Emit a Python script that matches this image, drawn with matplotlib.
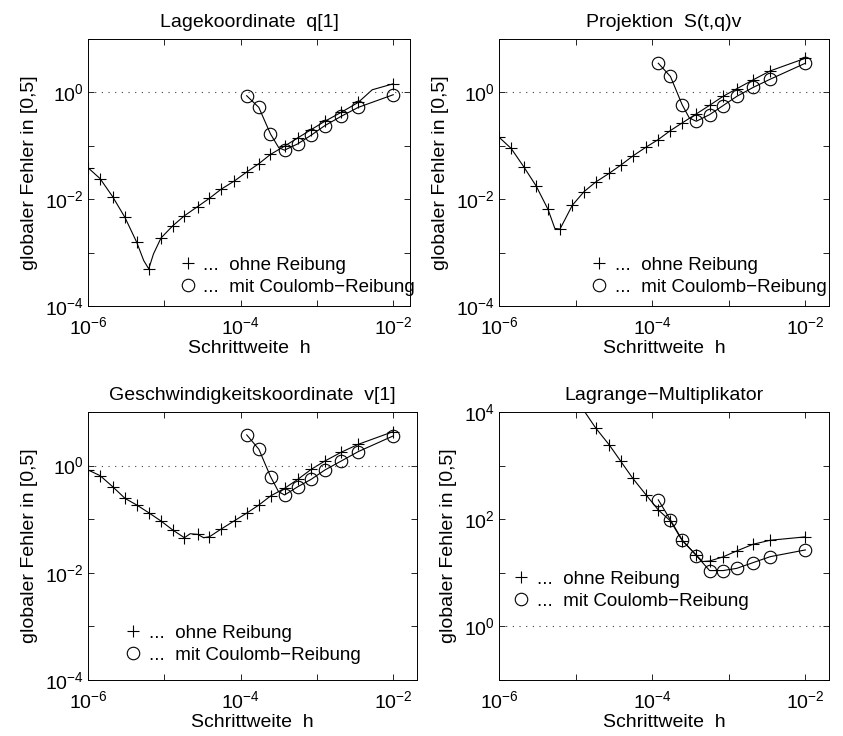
import matplotlib
matplotlib.use("agg")
import matplotlib.pyplot as plt
from matplotlib.lines import Line2D

plt.rcParams["font.family"] = ["Liberation Sans", "DejaVu Sans"]
plt.rcParams["mathtext.fontset"] = "custom"
plt.rcParams["mathtext.rm"] = "Liberation Sans"
plt.rcParams["mathtext.it"] = "Liberation Sans:italic"
plt.rcParams["mathtext.bf"] = "Liberation Sans:bold"

# step sizes h (shared by all panels)
h = [1.0e-6, 1.44e-6, 2.1e-6, 3.05e-6, 4.35e-6, 6.25e-6, 9.05e-6, 1.29e-5,
     1.83e-5, 2.74e-5, 3.9e-5, 5.55e-5, 8.3e-5, 1.2e-4, 1.73e-4, 2.46e-4,
     3.76e-4, 5.62e-4, 8.4e-4, 1.27e-3, 2.08e-3, 3.48e-3, 1.0e-2]
h_circ = h[13:]
h_lagr = h[8:]

# panel 1: Lagekoordinate q[1]
q_plus = [0.0389, 0.0243, 0.0112, 4.55e-3, 1.56e-3, 4.97e-4, 1.88e-3, 3.18e-3,
          4.89e-3, 7.3e-3, 0.0104, 0.0154, 0.0220, 0.0323, 0.0462, 0.069,
          0.0986, 0.141, 0.201, 0.288, 0.424, 0.651, 1.45]
q_circ = [0.867, 0.525, 0.167, 0.083, 0.109, 0.158, 0.239, 0.357, 0.525, 0.905]
q_plus_extra_h = [5.37e-6, 7.2e-6, 5.3e-3]
q_plus_extra = [7.1e-4, 9.4e-4, 1.12]
q_circ_extra_h = [3.16e-4]
q_circ_extra = [0.092]

# panel 2: Projektion S(t,q)v
s_plus = [0.145, 0.0891, 0.0406, 0.0177, 6.5e-3, 2.76e-3, 7.7e-3, 0.0139,
          0.0210, 0.0305, 0.0436, 0.0641, 0.0944, 0.131, 0.193, 0.268, 0.395,
          0.573, 0.842, 1.17, 1.72, 2.53, 4.36]
s_circ = [3.52, 1.99, 0.589, 0.288, 0.384, 0.565, 0.842, 1.24, 1.77, 3.52]
s_plus_extra_h = [5.35e-6]
s_plus_extra = [2.84e-3]
s_circ_extra_h = [3.05e-4]
s_circ_extra = [0.333]

# panel 3: Geschwindigkeitskoordinate v[1]
v_plus = [0.830, 0.650, 0.405, 0.245, 0.184, 0.132, 0.0924, 0.0628, 0.0451,
          0.0521, 0.0471, 0.0655, 0.0938, 0.13, 0.184, 0.271, 0.377, 0.556,
          0.854, 1.22, 1.78, 2.50, 4.32]
v_circ = [3.74, 2.02, 0.623, 0.283, 0.405, 0.556, 0.830, 1.22, 1.83, 3.59]
v_plus_extra_h = [2.18e-5, 3.27e-5]
v_plus_extra = [0.0536, 0.0451]
v_circ_extra_h = [3.13e-4]
v_circ_extra = [0.327]

# panel 4: Lagrange-Multiplikator
l_plus = [5020, 2450, 1196, 584, 285, 149, 93, 40, 21.5, 16.6, 19.8, 25.6,
          34.1, 40.5, 46.8]
l_circ = [230, 97, 41, 21, 11.0, 11.0, 12.1, 15.5, 20.0, 26.7]
l_plus_extra_h = [1.29e-5, 4.55e-4]
l_plus_extra = [1.05e4, 16.2]
l_circ_extra_h = []
l_circ_extra = []

titles = ["Lagekoordinate  q[1]", "Projektion  S(t,q)v",
          "Geschwindigkeitskoordinate  v[1]", "Lagrange\u2212Multiplikator"]
legend_labels = ["...  ohne Reibung", "...  mit Coulomb\u2212Reibung"]
xticks = [1e-6, 1e-5, 1e-4, 1e-3, 1e-2]
xticklabels = ["$10^{-6}$", "", "$10^{-4}$", "", "$10^{-2}$"]
yticks_err = [1e-4, 1e-3, 1e-2, 1e-1, 1e0, 1e1]
yticklabels_err = ["$10^{-4}$", "", "$10^{-2}$", "", "$10^{0}$", ""]
yticks_lagr = [1e-1, 1e0, 1e1, 1e2, 1e3, 1e4]
yticklabels_lagr = ["", "$10^{0}$", "", "$10^{2}$", "", "$10^{4}$"]


def merged(hx, y, hx2, y2):
    pts = sorted(zip(list(hx) + list(hx2), list(y) + list(y2)))
    return [p[0] for p in pts], [p[1] for p in pts]


def panel(fig, rect, title, xmax, ylim, yticks, yticklabels,
          hp, yp, hpe, ype, hc, yc, hce, yce, leg_xy):
    ax = fig.add_axes(rect)
    lx, ly = merged(hp, yp, hpe, ype)
    ax.plot(lx, ly, color="k", lw=0.8)
    lx, ly = merged(hc, yc, hce, yce)
    ax.plot(lx, ly, color="k", lw=0.8)
    ax.plot(hp, yp, ls="none", marker="+", ms=9, mew=0.8, color="k")
    ax.plot(hc, yc, ls="none", marker="o", ms=9, mew=0.8, mfc="none", color="k")
    ax.axhline(1.0, color="0.25", ls=(0, (1, 5)), lw=0.8)
    ax.set_xscale("log")
    ax.set_yscale("log")
    ax.set_xlim(1e-6, xmax)
    ax.set_ylim(*ylim)
    ax.set_xticks(xticks)
    ax.set_xticklabels(xticklabels)
    ax.set_yticks(yticks)
    ax.set_yticklabels(yticklabels)
    ax.minorticks_off()
    ax.tick_params(direction="in", top=True, right=True, length=4, width=0.6,
                   labelsize=14)
    ax.tick_params(axis="x", pad=7)
    ax.tick_params(axis="y", pad=3)
    for s in ax.spines.values():
        s.set_linewidth(0.7)
    ax.set_title(title, fontsize=14, pad=9)
    ax.set_xlabel("Schrittweite  h", fontsize=14, labelpad=2)
    ax.set_ylabel("globaler Fehler in [0,5]", fontsize=14, labelpad=5)
    handles = [Line2D([], [], ls="none", marker="+", ms=9, mew=0.8, color="k"),
               Line2D([], [], ls="none", marker="o", ms=9, mew=0.8,
                      mfc="none", color="k")]
    ax.legend(handles, legend_labels, loc="upper left", bbox_to_anchor=leg_xy,
              frameon=False, fontsize=13.5, borderpad=0, borderaxespad=0,
              handlelength=1.0, handletextpad=0.35, labelspacing=0.24)
    return ax


fig = plt.figure(figsize=(8.43, 7.36), dpi=100)

panel(fig, [0.1044, 0.5842, 0.3820, 0.3628], titles[0], 10 ** -1.78,
      (1e-4, 1e1), yticks_err, yticklabels_err,
      h, q_plus, q_plus_extra_h, q_plus_extra,
      h_circ, q_circ, q_circ_extra_h, q_circ_extra, (0.28, 0.184))
panel(fig, [0.5920, 0.5842, 0.3915, 0.3628], titles[1], 10 ** -1.69,
      (1e-4, 1e1), yticks_err, yticklabels_err,
      h, s_plus, s_plus_extra_h, s_plus_extra,
      h_circ, s_circ, s_circ_extra_h, s_circ_extra, (0.274, 0.184))
panel(fig, [0.1044, 0.0761, 0.3903, 0.3641], titles[2], 10 ** -1.69,
      (1e-4, 1e1), yticks_err, yticklabels_err,
      h, v_plus, v_plus_extra_h, v_plus_extra,
      h_circ, v_circ, v_circ_extra_h, v_circ_extra, (0.108, 0.206))
panel(fig, [0.5920, 0.0761, 0.3915, 0.3641], titles[3], 10 ** -1.69,
      (1e-1, 1e4), yticks_lagr, yticklabels_lagr,
      h_lagr, l_plus, l_plus_extra_h, l_plus_extra,
      h_circ, l_circ, l_circ_extra_h, l_circ_extra, (0.038, 0.407))

fig.savefig("out.png", dpi=100)
